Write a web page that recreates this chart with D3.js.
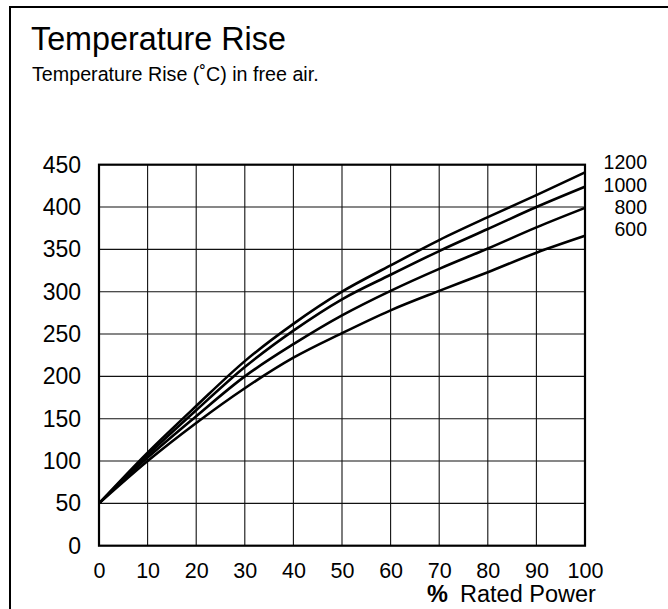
<!DOCTYPE html>
<html>
<head>
  <meta charset="utf-8" />
  <script src="https://d3js.org/d3.v7.min.js"></script>
  <style>
    body { margin: 0; background: #fff; }
    text { font-family: "Liberation Sans", Arial, sans-serif; fill: #000; }
  </style>
</head>
<body>
<div id="chart"></div>
<script>

// % rated power
var power = [0, 10, 20, 30, 40, 50, 60, 70, 80, 90, 100];

// temperature rise per curve
var rise1200 = [50, 110, 165, 218, 262, 300, 331, 361, 388, 414, 441];
var rise1000 = [50, 107, 160, 211, 254, 291, 320, 348, 374, 400, 424];
var rise800  = [50, 104, 153, 200, 238, 272, 301, 327, 351, 376, 399];
var rise600  = [50, 100, 145, 186, 222, 251, 278, 301, 323, 346, 366];

var seriesNames = ["1200", "1000", "800", "600"];
var seriesValues = [rise1200, rise1000, rise800, rise600];

var xTicks = [0, 10, 20, 30, 40, 50, 60, 70, 80, 90, 100];
var yTicks = [0, 50, 100, 150, 200, 250, 300, 350, 400, 450];

var W = 668, H = 609;
var margin = {top: 164.7, right: 83, bottom: 63.3, left: 99},
    width = W - margin.left - margin.right,
    height = H - margin.top - margin.bottom;

var svg = d3.select("#chart")
  .append("svg")
  .attr("width", W)
  .attr("height", H);

// outer frame (top and left edges only are visible)
svg.append("path")
  .attr("d", "M10," + H + "V7H" + W)
  .attr("fill", "none")
  .attr("stroke", "#000")
  .attr("stroke-width", 2);

svg.append("text")
  .attr("x", 31)
  .attr("y", 50)
  .style("font-size", "32.3px")
  .text("Temperature Rise");

svg.append("text")
  .attr("x", 32)
  .attr("y", 81)
  .style("font-size", "19.7px")
  .text("Temperature Rise (\u02DAC) in free air.");

var g = svg.append("g")
  .attr("transform", "translate(" + margin.left + "," + margin.top + ")");

var x = d3.scaleLinear().domain([0, 100]).range([0, width]);
var y = d3.scaleLinear().domain([0, 450]).range([height, 0]);

// grid
g.append("g")
  .selectAll("line")
  .data(xTicks.slice(1, -1))
  .enter().append("line")
    .attr("x1", function(d) { return x(d); })
    .attr("x2", function(d) { return x(d); })
    .attr("y1", 0)
    .attr("y2", height)
    .attr("stroke", "#111")
    .attr("stroke-width", 1.1);

g.append("g")
  .selectAll("line")
  .data(yTicks.slice(1, -1))
  .enter().append("line")
    .attr("x1", 0)
    .attr("x2", width)
    .attr("y1", function(d) { return y(d); })
    .attr("y2", function(d) { return y(d); })
    .attr("stroke", "#111")
    .attr("stroke-width", 1.1);

g.append("rect")
  .attr("x", 0)
  .attr("y", 0)
  .attr("width", width)
  .attr("height", height)
  .attr("fill", "none")
  .attr("stroke", "#000")
  .attr("stroke-width", 2.2);

// axes labels
var xAxis = g.append("g")
  .attr("transform", "translate(0," + height + ")")
  .call(d3.axisBottom(x).tickValues(xTicks).tickSize(0).tickPadding(0));
xAxis.select(".domain").remove();
xAxis.selectAll("text")
  .attr("y", 32)
  .attr("dy", 0)
  .style("font-size", "21.5px")
  .style("font-family", "Liberation Sans, Arial, sans-serif")
  .attr("fill", "#000");

var yAxis = g.append("g")
  .call(d3.axisLeft(y).tickValues(yTicks).tickSize(0).tickPadding(0));
yAxis.select(".domain").remove();
yAxis.selectAll("text")
  .attr("x", -18)
  .attr("dy", 7.5)
  .style("font-size", "23px")
  .style("font-family", "Liberation Sans, Arial, sans-serif")
  .attr("fill", "#000");

// curves
var line = d3.line()
  .x(function(d, i) { return x(power[i]); })
  .y(function(d) { return y(d); })
  .curve(d3.curveMonotoneX);

g.append("g")
  .selectAll("path")
  .data(seriesValues)
  .enter().append("path")
    .attr("d", function(d) { return line(d); })
    .attr("fill", "none")
    .attr("stroke", "#000")
    .attr("stroke-width", 2.6);

// series labels on the right
var labelY = [169, 191.5, 214, 236];
svg.append("g")
  .selectAll("text")
  .data(seriesNames)
  .enter().append("text")
    .attr("x", 647)
    .attr("y", function(d, i) { return labelY[i]; })
    .attr("text-anchor", "end")
    .style("font-size", "19.5px")
    .text(function(d) { return d; });

// x axis title
svg.append("text")
  .attr("x", 427)
  .attr("y", 602)
  .style("font-size", "23.5px")
  .style("font-weight", "bold")
  .text("%");
svg.append("text")
  .attr("x", 460)
  .attr("y", 602)
  .style("font-size", "23.5px")
  .text("Rated Power");

</script>
</body>
</html>
